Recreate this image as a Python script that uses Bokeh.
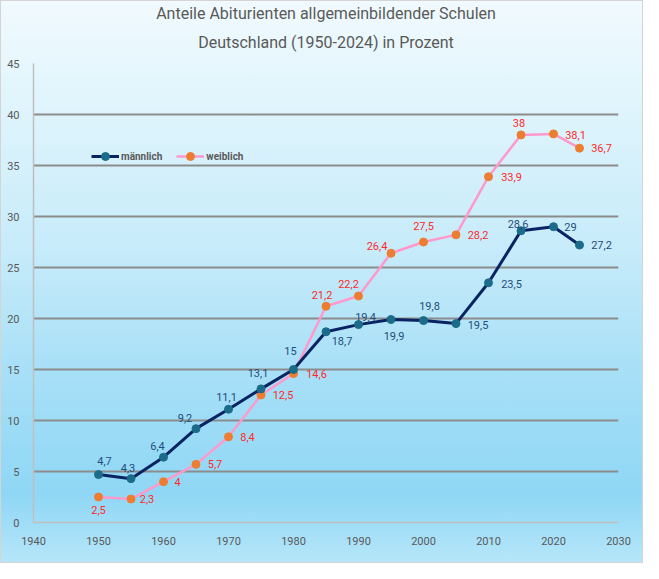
from bokeh.plotting import figure
from bokeh.models import ColumnDataSource, LabelSet, FixedTicker, Legend, LegendItem, Title
from bokeh.core.properties import value
from bokeh.embed import file_html
from bokeh.resources import INLINE

# ---- data ----
years = [1950, 1955, 1960, 1965, 1970, 1975, 1980, 1985, 1990, 1995, 2000, 2005, 2010, 2015, 2020, 2024]
maennlich = [4.7, 4.3, 6.4, 9.2, 11.1, 13.1, 15, 18.7, 19.4, 19.9, 19.8, 19.5, 23.5, 28.6, 29, 27.2]
weiblich = [2.5, 2.3, 4, 5.7, 8.4, 12.5, 14.6, 21.2, 22.2, 26.4, 27.5, 28.2, 33.9, 38, 38.1, 36.7]
x_ticks = [1940, 1950, 1960, 1970, 1980, 1990, 2000, 2010, 2020, 2030]
y_ticks = [0, 5, 10, 15, 20, 25, 30, 35, 40, 45]
title_line1 = "Anteile Abiturienten allgemeinbildender Schulen"
title_line2 = "Deutschland (1950-2024) in Prozent"

# ---- label placement (style, pixels: dx right, dy up) ----
m_dx = [6, -3, -6, -11, -2, -3, -3, 16, 7, 3, 6, 22, 23, -3, 17, 22]
m_dy = [14, 11, 11, 11, 12, 16, 19, -9, 8, -16, 15, -1, -1, 7, 0, 0]
w_dx = [0, 16, 14, 19, 19, 22, 23, -4, -10, -14, 0, 22, 23, -2, 22, 22]
w_dy = [-13, 0, 0, 0, 0, 0, 0, 11, 12, 7, 16, 0, 0, 12, -1, 0]

def fmt(v):
    return ("%g" % v).replace(".", ",")

src_m = ColumnDataSource(dict(x=years, y=maennlich, t=[fmt(v) for v in maennlich], dx=m_dx, dy=m_dy))
src_w = ColumnDataSource(dict(x=years, y=weiblich, t=[fmt(v) for v in weiblich], dx=w_dx, dy=w_dy))

FONT = "Roboto"
GRAY = "#595959"

p = figure(width=643, height=563, output_backend="svg", toolbar_location=None, title=None,
           x_range=(1940, 2030), y_range=(0, 45),
           min_border_left=32, min_border_right=26, min_border_top=12, min_border_bottom=42,
           styles={"background": "linear-gradient(to bottom, #f1fafe 0%, #def4fc 20%, #c6ebfa 45%, #a9e0f7 65%, #8fd7f5 88%, #b6e6f9 100%)",
                   "border": "1px solid #d4d4d4"})
p.border_fill_color = None
p.background_fill_color = None
p.outline_line_color = None

p.add_layout(Title(text=title_line2, align="center", vertical_align="top", text_font=FONT,
                   text_font_size="16px", text_font_style="normal", text_color=GRAY,
                   standoff=20), "above")
p.add_layout(Title(text=title_line1, align="center", vertical_align="bottom", text_font=FONT,
                   text_font_size="16px", text_font_style="normal", text_color=GRAY,
                   standoff=0), "above")

p.xgrid.visible = False
p.ygrid.ticker = FixedTicker(ticks=y_ticks[1:])
p.ygrid.grid_line_color = "#8c8c8c"
p.ygrid.grid_line_width = 2

for ax in (p.xaxis[0], p.yaxis[0]):
    ax.axis_line_color = "#bfbfbf"
    ax.axis_line_width = 1.5
    ax.major_tick_line_color = None
    ax.minor_tick_line_color = None
    ax.major_label_text_color = GRAY
    ax.major_label_text_font = FONT
    ax.major_label_text_font_size = "11px"
p.xaxis.ticker = FixedTicker(ticks=x_ticks)
p.yaxis.ticker = FixedTicker(ticks=y_ticks)
p.xaxis.major_label_standoff = 8
p.yaxis.major_label_standoff = 8

lw = p.line("x", "y", source=src_w, line_color="#ff99cc", line_width=2.5)
cw = p.scatter("x", "y", source=src_w, size=8, fill_color="#ed7d31", line_color="#ed7d31")
lm = p.line("x", "y", source=src_m, line_color="#0a2463", line_width=3)
cm = p.scatter("x", "y", source=src_m, size=8, fill_color="#1b6b8a", line_color="#1b6b8a")

p.add_layout(LabelSet(x="x", y="y", text="t", source=src_m, x_offset="dx", y_offset="dy",
                      text_align="center", text_baseline="middle", text_font=value(FONT),
                      text_font_size=value("11px"), text_color="#1f4e79"))
p.add_layout(LabelSet(x="x", y="y", text="t", source=src_w, x_offset="dx", y_offset="dy",
                      text_align="center", text_baseline="middle", text_font=value(FONT),
                      text_font_size=value("11px"), text_color="#ff2a2a"))

legend = Legend(items=[LegendItem(label="männlich", renderers=[lm, cm]),
                       LegendItem(label="weiblich", renderers=[lw, cw])],
                orientation="horizontal", location=(58, 356),
                background_fill_alpha=0, border_line_color=None,
                label_text_font=FONT, label_text_font_size="10px", label_text_font_style="bold",
                label_text_color=GRAY, glyph_width=28, spacing=14, padding=4, label_standoff=2)
p.add_layout(legend, "center")

open("out.html", "w").write(file_html(p, INLINE))
